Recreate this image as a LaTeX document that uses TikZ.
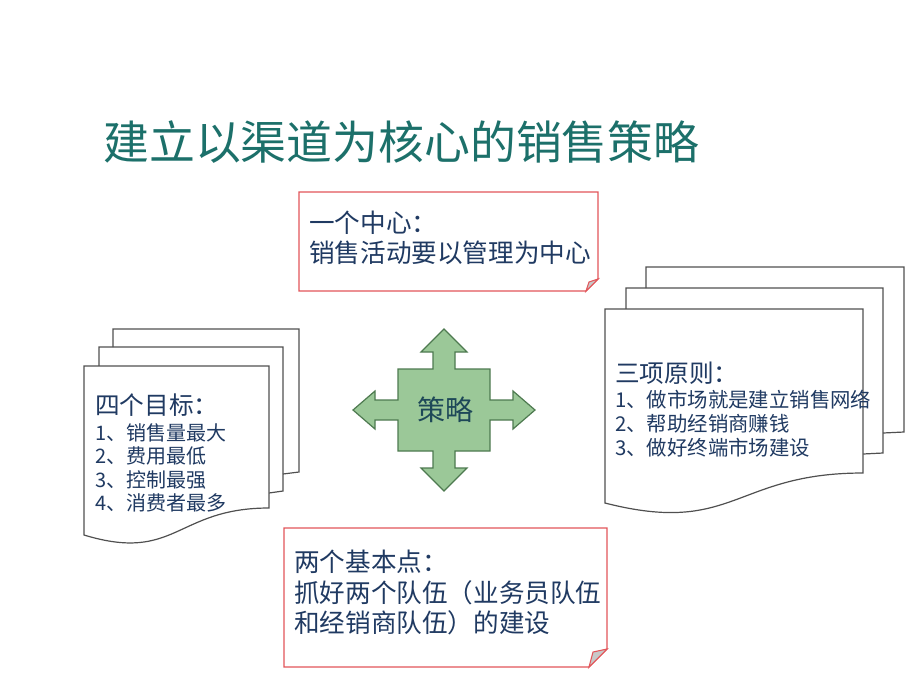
\documentclass[tikz,border=0pt]{standalone}
\usepackage{fontspec}
\setmainfont{Noto Sans CJK SC}
\newfontfamily\cjk{Noto Sans CJK SC}
\definecolor{titlecol}{RGB}{28,112,106}
\definecolor{txtcol}{RGB}{32,58,98}
\definecolor{redline}{RGB}{226,86,90}
\definecolor{foldgray}{RGB}{200,200,200}
\definecolor{docline}{RGB}{80,80,80}
\definecolor{crossfill}{RGB}{155,200,152}
\definecolor{crossline}{RGB}{78,122,80}
\definecolor{crosstxt}{RGB}{30,72,88}
\tikzset{
  txt/.style={anchor=west, inner sep=0pt, text=txtcol, font=\cjk\fontsize{19.2}{23}\selectfont},
  dochead/.style={anchor=west, inner sep=0pt, text=txtcol, font=\cjk\fontsize{18.5}{22}\selectfont},
  docitemL/.style={anchor=west, inner sep=0pt, text=txtcol, font=\cjk\fontsize{15}{18}\selectfont},
  docitemR/.style={anchor=west, inner sep=0pt, text=txtcol, font=\cjk\fontsize{15.3}{18}\selectfont},
  notebox/.style={draw=redline, line width=0.9pt, fill=white},
  fold/.style={draw=redline, line width=0.8pt, fill=foldgray},
  page/.style={draw=docline, line width=0.9pt, fill=white},
  pageedge/.style={draw=docline, line width=0.9pt},
}
\begin{document}
\begin{tikzpicture}[x=0.75pt,y=-0.75pt]
\useasboundingbox[fill=white] (0,0) rectangle (920,690);

% title
\node[anchor=west, inner sep=0pt, text=titlecol, font=\cjk\fontsize{34.4}{40}\selectfont] (title) at (103,142) {建立以渠道为核心的销售策略};

% top note box
\path[notebox] (299,192) -- (598,192) -- (598,279) -- (586,291) -- (299,291) -- cycle;
\path[fold] (586,291) -- (589,282) -- (598,279) -- cycle;
\node[txt] (top1) at (309,223) {一个中心：};
\node[txt] (top2) at (309,253) {销售活动要以管理为中心};

% bottom note box
\path[notebox] (284,528) -- (607,528) -- (607,649) -- (589,667) -- (284,667) -- cycle;
\path[fold] (589,667) -- (593,652) -- (607,649) -- cycle;
\node[txt] (bot1) at (294,562) {两个基本点：};
\node[txt] (bot2) at (294,593) {抓好两个队伍（业务员队伍};
\node[txt] (bot3) at (294,623) {和经销商队伍）的建设};

% left document stack
\path[pageedge] (113,347) -- (113,329) -- (299,329) -- (299,472) -- (283,474);
\path[pageedge] (99,366) -- (99,347) -- (283,347) -- (283,491) -- (269,493);
\path[page] (84,366) -- (269,366) -- (269,508) .. controls (176,508) and (176,563) .. (84,535) -- cycle;
\node[dochead] (lh) at (95,405) {四个目标：};
\node[docitemL] (l1) at (95,433) {1、销售量最大};
\node[docitemL] (l2) at (95,456) {2、费用最低};
\node[docitemL] (l3) at (95,480) {3、控制最强};
\node[docitemL] (l4) at (95,503) {4、消费者最多};

% right document stack
\path[pageedge] (646,288) -- (646,267) -- (904,267) -- (904,432) -- (883,433);
\path[pageedge] (626,309) -- (626,288) -- (883,288) -- (883,453) -- (863,454);
\path[page] (605,309) -- (863,309) -- (863,473) .. controls (734,473) and (734,536) .. (605,503) -- cycle;
\node[dochead] (rh) at (615,373) {三项原则：};
\node[docitemR] (r1) at (615,400) {1、做市场就是建立销售网络};
\node[docitemR] (r2) at (615,424) {2、帮助经销商赚钱};
\node[docitemR] (r3) at (615,448) {3、做好终端市场建设};

% central quad arrow
\begin{scope}[shift={(444,410)}]
\path[fill=crossfill, draw=crossline, line width=0.9pt, line join=miter]
 (0,-81) -- (23,-58) -- (11,-58) -- (11,-41) -- (46,-41) -- (46,-10) -- (69,-10) -- (69,-19) -- (91,0) -- (69,19) -- (69,10) -- (46,10) -- (46,41) -- (11,41) -- (11,58) -- (23,58) -- (0,81) -- (-23,58) -- (-11,58) -- (-11,41) -- (-46,41) -- (-46,10) -- (-69,10) -- (-69,19) -- (-91,0) -- (-69,-19) -- (-69,-10) -- (-46,-10) -- (-46,-41) -- (-11,-41) -- (-11,-58) -- (-23,-58) -- cycle;
\end{scope}
\node[inner sep=0pt, text=crosstxt, font=\cjk\fontsize{21}{25}\selectfont] (center) at (445,410) {策略};
\end{tikzpicture}
\end{document}
